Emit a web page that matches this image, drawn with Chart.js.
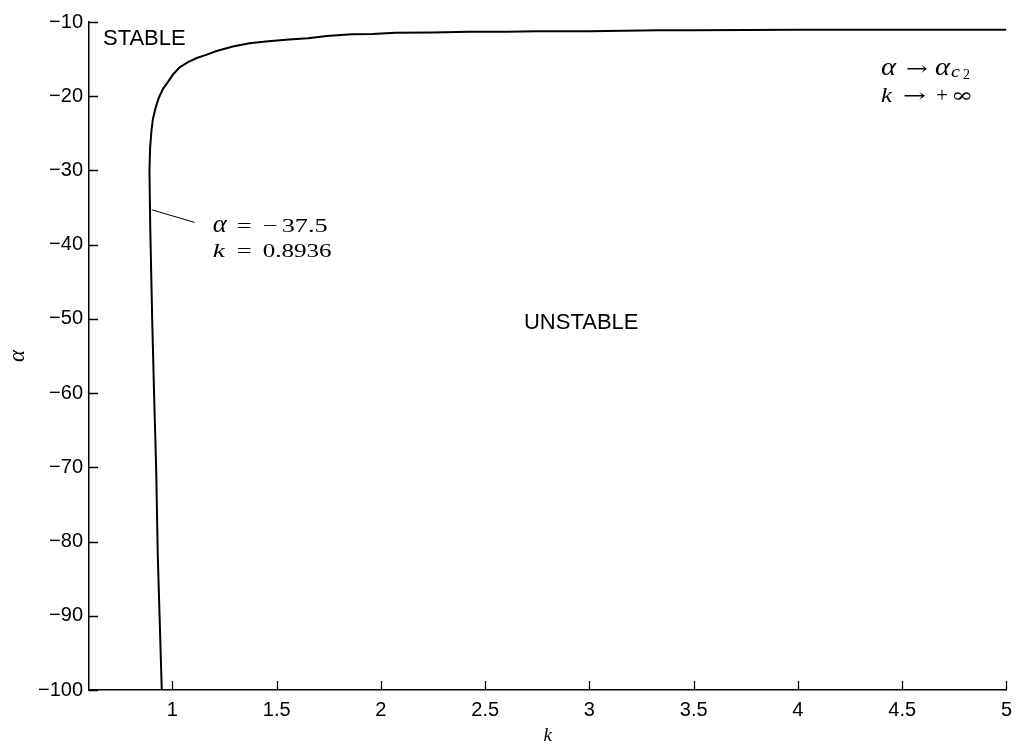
<!DOCTYPE html>
<html>
<head>
<meta charset="utf-8">
<script src="https://cdn.jsdelivr.net/npm/chart.js@4.4.1/dist/chart.umd.min.js"></script>
<style>
  html, body { margin: 0; padding: 0; background: #fff; }
  canvas { display: block; }
</style>
</head>
<body>
<canvas id="grafico" width="1020" height="748"></canvas>
<script>
// stability boundary alpha(k)
const kValori = [0.949, 0.930, 0.922, 0.912, 0.903, 0.8936, 0.890, 0.893, 0.900, 0.907, 0.920, 0.935,
  0.955, 0.978, 1.005, 1.035, 1.075, 1.117, 1.165, 1.212, 1.29, 1.37, 1.46, 1.56, 1.65, 1.74, 1.86,
  1.96, 2.07, 2.25, 2.42, 2.6, 2.75, 3.0, 3.33, 3.5, 4.0, 5.0];
const alfaValori = [-100, -82, -70, -60, -50, -37.5, -30, -27, -24.5, -23, -21.5, -20.2,
  -19, -18.1, -17, -16.1, -15.4, -14.85, -14.4, -13.9, -13.3, -12.85, -12.6, -12.35, -12.2, -11.9, -11.65,
  -11.6, -11.45, -11.4, -11.3, -11.3, -11.25, -11.25, -11.1, -11.1, -11.05, -11.05];

const tickK = [1, 1.5, 2, 2.5, 3, 3.5, 4, 4.5, 5];
const tickAlfa = [-100, -90, -80, -70, -60, -50, -40, -30, -20, -10];

const punti = kValori.map((k, i) => ({ x: k, y: alfaValori[i] }));

const SANS = '"Liberation Sans", Arial, sans-serif';
const SERIF = '"Liberation Serif", "Times New Roman", serif';
const SIMBOLI = '"DejaVu Serif", "Liberation Serif", serif';

// pezzi: [testo, stile, dimensione, spostamento verticale, x relativa, larghezza]
function scriviFormula(ctx, pezzi, x, y) {
  pezzi.forEach(([t, stile, size, dy, dx, w]) => {
    const fam = stile === 's' ? SIMBOLI : SERIF;
    ctx.font = (stile === 'i' ? 'italic ' : '') + size + 'px ' + fam;
    const largh = ctx.measureText(t).width;
    ctx.save();
    ctx.translate(x + dx, y + dy);
    ctx.scale(w / largh, 1);
    ctx.fillText(t, 0, 0);
    ctx.restore();
  });
}

const annotazioni = {
  id: 'annotazioni',
  afterDraw(chart) {
    const ctx = chart.ctx;
    const sx = chart.scales.x, sy = chart.scales.y;
    const area = chart.chartArea;
    ctx.save();
    ctx.strokeStyle = '#000';
    ctx.lineWidth = 1.3;

    // tacche verso l'interno
    ctx.beginPath();
    tickK.forEach(v => {
      const px = Math.round(sx.getPixelForValue(v)) + 0.5;
      ctx.moveTo(px, area.bottom);
      ctx.lineTo(px, area.bottom - 9);
    });
    tickAlfa.forEach(v => {
      const py = Math.round(sy.getPixelForValue(v)) + 0.5;
      ctx.moveTo(area.left, py);
      ctx.lineTo(area.left + 9, py);
    });
    ctx.stroke();

    // freccia del punto annotato
    ctx.lineWidth = 1;
    ctx.beginPath();
    ctx.moveTo(sx.getPixelForValue(0.901), sy.getPixelForValue(-35.3));
    ctx.lineTo(sx.getPixelForValue(1.107), sy.getPixelForValue(-37.0));
    ctx.stroke();

    ctx.fillStyle = '#000';
    ctx.textBaseline = 'middle';
    ctx.textAlign = 'left';
    ctx.font = '22px ' + SANS;
    ctx.fillText('STABLE', sx.getPixelForValue(0.667), sy.getPixelForValue(-12.25));
    ctx.fillText('UNSTABLE', sx.getPixelForValue(2.686), sy.getPixelForValue(-50.5));

    ctx.textBaseline = 'alphabetic';
    let x0 = sx.getPixelForValue(1.193);
    scriviFormula(ctx, [
      ['α', 'i', 25, 0, 0, 14], ['=', 'r', 19, 0, 24, 15],
      ['−', 'r', 19, 0, 50, 15], ['37.5', 'r', 19, 0, 69, 46]
    ], x0, sy.getPixelForValue(-38.3));
    scriviFormula(ctx, [
      ['k', 'i', 19, 0, 0, 12], ['=', 'r', 19, 0, 24, 15], ['0.8936', 'r', 19, 0, 50, 69]
    ], x0, sy.getPixelForValue(-41.66));

    x0 = sx.getPixelForValue(4.399);
    scriviFormula(ctx, [
      ['α', 'i', 25, 0, 0, 15], ['→', 's', 19, 0, 25, 22], ['α', 'i', 25, 0, 54, 15],
      ['c', 'i', 16, 2, 70, 9], ['2', 'r', 14, 4, 82, 7]
    ], x0, sy.getPixelForValue(-17.14));
    scriviFormula(ctx, [
      ['k', 'i', 20, 0, 0, 11], ['→', 's', 19, 0, 22, 23], ['+', 'r', 20, 0, 55, 12],
      ['∞', 's', 20, 0, 70, 22]
    ], x0, sy.getPixelForValue(-20.78));

    // titoli degli assi
    ctx.font = 'italic 19px ' + SERIF;
    ctx.textAlign = 'center';
    ctx.textBaseline = 'middle';
    ctx.fillText('k', (area.left + area.right) / 2, 736);
    ctx.translate(18, (area.top + area.bottom) / 2);
    ctx.rotate(-Math.PI / 2);
    ctx.font = 'italic 23px ' + SERIF;
    ctx.fillText('α', 0, 0);
    ctx.restore();
  }
};

const ctx = document.getElementById('grafico').getContext('2d');
const grafico = new Chart(ctx, {
  type: 'scatter',
  data: {
    datasets: [{
      data: punti,
      showLine: true,
      borderColor: '#000',
      borderWidth: 2,
      pointRadius: 0,
      tension: 0
    }]
  },
  options: {
    responsive: false,
    animation: false,
    devicePixelRatio: 1,
    layout: { padding: { left: 0, right: 12, top: 22, bottom: 0 } },
    plugins: { legend: { display: false }, tooltip: { enabled: false } },
    scales: {
      x: {
        type: 'linear',
        min: 0.6,
        max: 5,
        grid: { display: false, drawTicks: false },
        border: { color: '#000', width: 1.5 },
        ticks: {
          color: '#000', font: { family: SANS, size: 20 }, padding: 8, maxRotation: 0,
          callback: v => String(v)
        },
        afterBuildTicks: s => { s.ticks = tickK.map(v => ({ value: v })); },
        afterFit: s => { s.height = 58; }
      },
      y: {
        type: 'linear',
        min: -100,
        max: -10,
        grid: { display: false, drawTicks: false },
        border: { color: '#000', width: 1.5 },
        ticks: {
          color: '#000', font: { family: SANS, size: 20 }, padding: 6,
          callback: v => (v < 0 ? '\u2212' + Math.abs(v) : String(v))
        },
        afterBuildTicks: s => { s.ticks = tickAlfa.map(v => ({ value: v })); },
        afterFit: s => { s.width = 89; }
      }
    }
  },
  plugins: [annotazioni]
});
</script>
</body>
</html>
